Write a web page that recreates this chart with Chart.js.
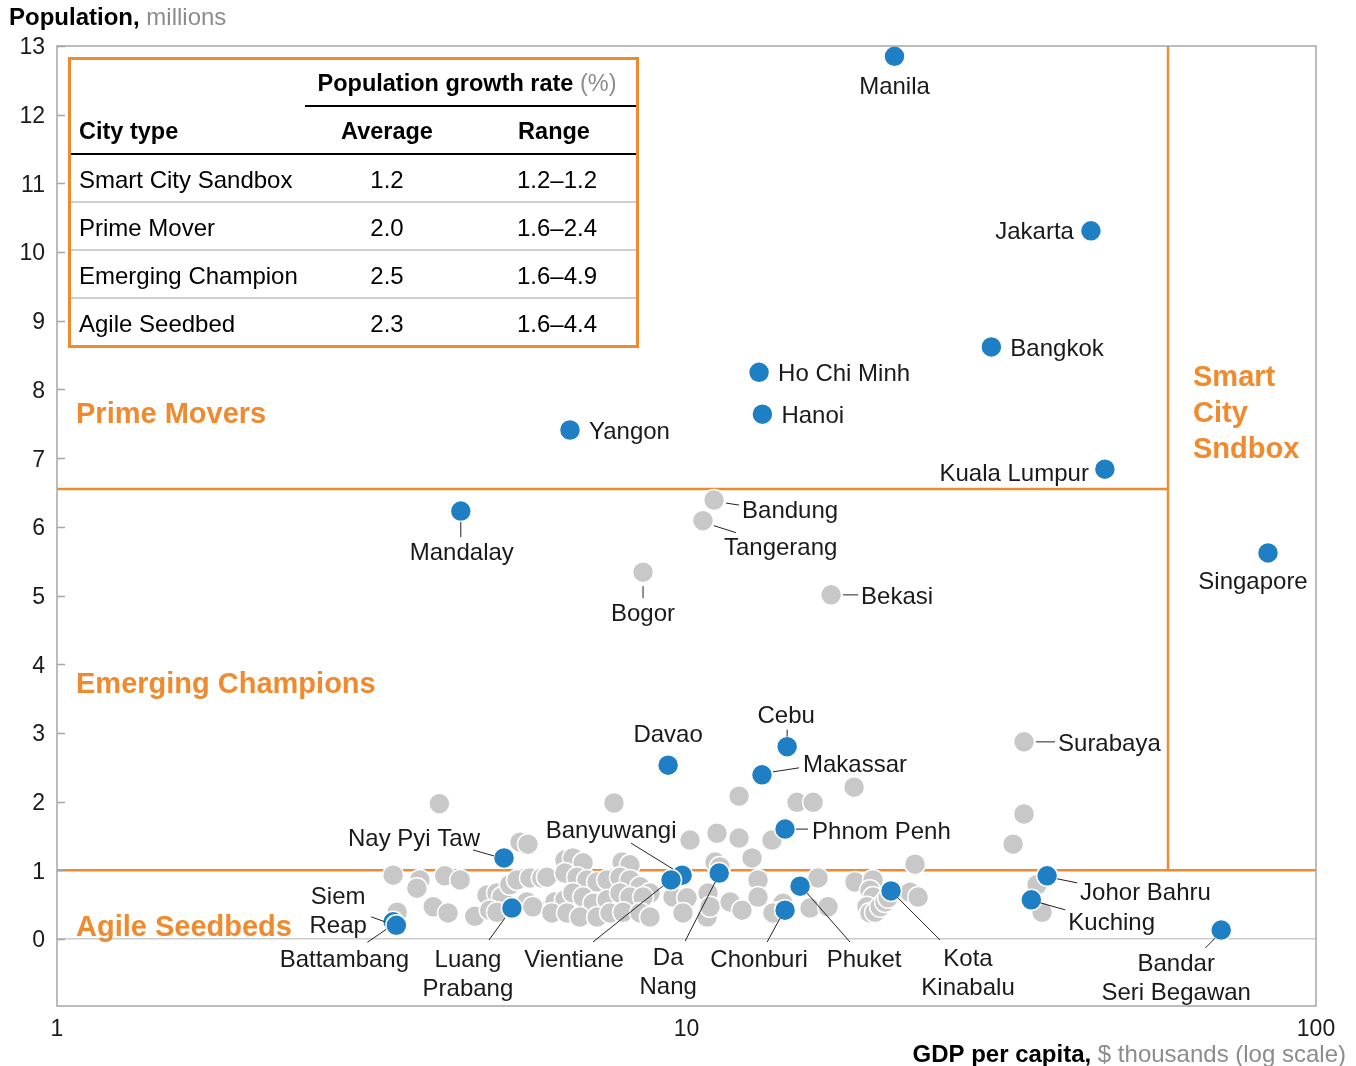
<!DOCTYPE html>
<html>
<head>
<meta charset="utf-8">
<script src="https://cdn.jsdelivr.net/npm/chart.js@4.4.0/dist/chart.umd.min.js"></script>
<style>
  html, body { margin: 0; padding: 0; background: #fff; }
  #wrap { width: 1356px; height: 1066px; }
</style>
</head>
<body>
<div id="wrap"><canvas id="chart" width="1356" height="1066"></canvas></div>
<script>
// Highlighted cities (blue dots): GDP per capita ($k) and population (m)
const cityNames = ['Manila', 'Jakarta', 'Bangkok', 'Ho Chi Minh', 'Hanoi', 'Yangon', 'Kuala Lumpur',
  'Mandalay', 'Singapore', 'Cebu', 'Davao', 'Makassar', 'Phnom Penh', 'Nay Pyi Taw', 'Banyuwangi',
  'Vientiane', 'Da Nang', 'Luang Prabang', 'Siem Reap', 'Battambang', 'Chonburi', 'Phuket',
  'Kota Kinabalu', 'Johor Bahru', 'Kuching', 'Bandar Seri Begawan'];
const cityGdp = [21.4, 43.9, 30.5, 13.04, 13.2, 6.53, 46.2, 4.38, 83.9, 14.45, 9.35, 13.18, 14.34, 5.13, 9.84,
  9.45, 11.27, 5.28, 3.42, 3.46, 14.34, 15.15, 21.13, 37.4, 35.3, 70.7];
const cityPop = [12.85, 10.31, 8.62, 8.25, 7.64, 7.41, 6.84, 6.23, 5.62, 2.80, 2.53, 2.39, 1.60, 1.18, 0.93,
  0.86, 0.96, 0.45, 0.25, 0.20, 0.42, 0.77, 0.70, 0.92, 0.57, 0.13];

// Labelled grey cities
const greyNames = ['Bandung', 'Tangerang', 'Bogor', 'Bekasi', 'Surabaya'];
const greyGdp = [11.06, 10.62, 8.53, 16.97, 34.37];
const greyPop = [6.39, 6.09, 5.34, 5.01, 2.87];

// All the other (unlabelled) cities
const otherGdp = [4.05, 7.67, 12.12, 14.98, 15.89, 18.46, 34.37, 33.02, 11.18, 10.13, 12.12, 13.67, 12.71, 23.07,
  5.44, 5.60, 3.42, 4.13, 4.37, 3.77, 3.73, 3.96, 4.18, 3.47, 4.61, 4.82, 5.00, 5.09, 4.87, 5.00,
  5.24, 5.38, 5.64, 5.89, 5.58, 5.70, 6.14, 6.46, 6.00, 6.41, 6.60, 6.85, 7.90, 8.13, 6.41, 6.70,
  6.95, 7.21, 7.48, 7.84, 8.13, 8.44, 8.75, 6.18, 6.41, 6.60, 6.85, 7.11, 7.48, 7.84, 8.13, 8.53,
  6.11, 6.46, 6.77, 7.21, 7.56, 7.93, 8.44, 8.75, 9.52, 10.02, 9.87, 10.78, 10.82, 10.90, 11.73, 12.25,
  11.10, 11.30, 12.99, 12.99, 16.18, 14.23, 13.98, 13.72, 15.71, 16.78, 18.52, 19.78, 19.56, 19.78,
  19.35, 19.56, 19.93, 20.30, 20.67, 20.90, 22.65, 23.33, 36.05, 36.71];
const otherPop = [1.97, 1.98, 2.08, 1.99, 1.99, 2.21, 1.82, 1.38, 1.54, 1.44, 1.47, 1.44, 1.18, 1.09,
  1.41, 1.38, 0.93, 0.92, 0.86, 0.86, 0.74, 0.47, 0.38, 0.39, 0.33, 0.64, 0.67, 0.61, 0.42, 0.39,
  0.79, 0.86, 0.89, 0.89, 0.54, 0.47, 0.52, 0.60, 0.90, 1.15, 1.18, 1.11, 1.12, 1.08, 0.96, 0.90,
  0.86, 0.83, 0.86, 0.90, 0.86, 0.76, 0.67, 0.54, 0.57, 0.67, 0.61, 0.52, 0.57, 0.67, 0.61, 0.61,
  0.38, 0.38, 0.32, 0.32, 0.38, 0.39, 0.38, 0.32, 0.61, 0.60, 0.38, 0.32, 0.67, 0.47, 0.54, 0.42,
  1.12, 1.05, 0.86, 0.61, 0.89, 0.52, 0.39, 0.38, 0.45, 0.47, 0.83, 0.86, 0.71, 0.61,
  0.47, 0.38, 0.39, 0.47, 0.54, 0.60, 0.68, 0.61, 0.79, 0.39];

// Segment borders
const primeMoverPop = 6.55;
const seedbedPop = 1;
const sandboxGdp = 58.2;

const xTicks = [1, 10, 100];
const yTicks = [0, 1, 2, 3, 4, 5, 6, 7, 8, 9, 10, 11, 12, 13];

// Growth rate table
const tableTypes = ['Smart City Sandbox', 'Prime Mover', 'Emerging Champion', 'Agile Seedbed'];
const tableAvg = ['1.2', '2.0', '2.5', '2.3'];
const tableRange = ['1.2\u20131.2', '1.6\u20132.4', '1.6\u20134.9', '1.6\u20134.4'];

const BLUE = '#1f7fc4';
const GREY = '#c8c8c8';
const ORANGE = '#ef8a2e';
const TEXT = '#1a1a1a';
const MUTED = '#8c8c8c';
const FAMILY = "'Liberation Sans', Arial, Helvetica, sans-serif";
const font = (size, bold) => (bold ? 'bold ' : '') + size + 'px ' + FAMILY;

// label placement: text offset from the dot (px), and the leader line
const labelLayout = {
  'Manila': { dx: 0, dy: 30, align: 'center' },
  'Jakarta': { dx: -17, dy: 0, align: 'right' },
  'Bangkok': { dx: 19, dy: 1, align: 'left' },
  'Ho Chi Minh': { dx: 19, dy: 1, align: 'left' },
  'Hanoi': { dx: 19, dy: 1, align: 'left' },
  'Yangon': { dx: 19, dy: 1, align: 'left' },
  'Kuala Lumpur': { dx: -16, dy: 4, align: 'right' },
  'Mandalay': { dx: 1, dy: 41, align: 'center', tick: [0, 11, 0, 26] },
  'Singapore': { dx: -15, dy: 28, align: 'center' },
  'Cebu': { dx: -1, dy: -32, align: 'center', tick: [0, -10, 0, -17] },
  'Davao': { dx: 0, dy: -31, align: 'center' },
  'Makassar': { dx: 41, dy: -11, align: 'left', tick: [11, -3, 37, -7] },
  'Phnom Penh': { dx: 27, dy: 2, align: 'left', tick: [11, 0, 23, 0] },
  'Nay Pyi Taw': { dx: -24, dy: -20, align: 'right', tick: [-31, -8, -10, -2] },
  'Banyuwangi': { dx: -71, dy: -45, align: 'center', tick: [-51, -32, -9, -6] },
  'Vientiane': { dx: -97, dy: 79, align: 'center', tick: [-78, 62, -8, 6] },
  'Da Nang': { dx: -51, dy: 84, align: 'center', lines: ['Da', 'Nang'], tick: [-34, 68, -4, 9] },
  'Luang Prabang': { dx: -44, dy: 51, align: 'center', lines: ['Luang', 'Prabang'], tick: [-23, 32, -7, 10] },
  'Siem Reap': { dx: -55, dy: -26, align: 'center', lines: ['Siem', 'Reap'], tick: [-22, -5, -8, 0] },
  'Battambang': { dx: -52, dy: 34, align: 'center', tick: [-29, 17, -10, 4] },
  'Chonburi': { dx: -26, dy: 49, align: 'center', tick: [-18, 32, -5, 8] },
  'Phuket': { dx: 64, dy: 73, align: 'center', tick: [50, 56, 7, 7] },
  'Kota Kinabalu': { dx: 77, dy: 67, align: 'center', lines: ['Kota', 'Kinabalu'], tick: [49, 49, 7, 7] },
  'Johor Bahru': { dx: 33, dy: 16, align: 'left', tick: [10, 3, 30, 7] },
  'Kuching': { dx: 37, dy: 22, align: 'left', tick: [9, 3, 34, 10] },
  'Bandar Seri Begawan': { dx: -45, dy: 33, align: 'center', lines: ['Bandar', 'Seri Begawan'], tick: [-16, 18, -6, 8] },
  'Bandung': { dx: 28, dy: 10, align: 'left', tick: [12, 3, 25, 5] },
  'Tangerang': { dx: 21, dy: 26, align: 'left', tick: [11, 5, 33, 12] },
  'Bogor': { dx: 0, dy: 41, align: 'center', tick: [0, 14, 0, 26] },
  'Bekasi': { dx: 30, dy: 1, align: 'left', tick: [12, 0, 27, 0] },
  'Surabaya': { dx: 34, dy: 1, align: 'left', tick: [12, 0, 31, 0] }
};

// draw a run of text pieces with their own colour / weight
function drawParts(ctx, parts, x, y, align) {
  let total = 0;
  parts.forEach(p => { ctx.font = font(p.size, p.bold); p.w = ctx.measureText(p.text).width; total += p.w; });
  let cx = align === 'right' ? x - total : align === 'center' ? x - total / 2 : x;
  ctx.textAlign = 'left';
  ctx.textBaseline = 'middle';
  parts.forEach(p => {
    ctx.font = font(p.size, p.bold);
    ctx.fillStyle = p.color;
    ctx.fillText(p.text, cx, y);
    cx += p.w;
  });
}

const annotations = {
  id: 'annotations',
  afterDatasetsDraw(chart) {
    const { ctx, chartArea: a, scales: { x, y } } = chart;
    ctx.save();

    // frame and inward y ticks
    ctx.strokeStyle = '#a6a6a6';
    ctx.lineWidth = 1.5;
    ctx.strokeRect(a.left, a.top, a.right - a.left, a.bottom - a.top);
    yTicks.forEach(v => {
      const py = Math.round(y.getPixelForValue(v)) + 0.5;
      ctx.beginPath();
      ctx.moveTo(a.left, py);
      ctx.lineTo(a.left + 8, py);
      ctx.stroke();
    });

    // city labels and leader lines
    const named = [];
    cityNames.forEach((n, i) => named.push([n, cityGdp[i], cityPop[i]]));
    greyNames.forEach((n, i) => named.push([n, greyGdp[i], greyPop[i]]));
    named.forEach(([name, gx, gy]) => {
      const l = labelLayout[name];
      if (!l) return;
      const px = x.getPixelForValue(gx);
      const py = y.getPixelForValue(gy);
      if (l.tick) {
        ctx.strokeStyle = '#222';
        ctx.lineWidth = 1;
        ctx.beginPath();
        ctx.moveTo(px + l.tick[0], py + l.tick[1]);
        ctx.lineTo(px + l.tick[2], py + l.tick[3]);
        ctx.stroke();
      }
      ctx.font = font(24, false);
      ctx.fillStyle = TEXT;
      ctx.textAlign = l.align;
      ctx.textBaseline = 'middle';
      (l.lines || [name]).forEach((t, k) => ctx.fillText(t, px + l.dx, py + l.dy + 1.5 + k * 29));
    });

    // segment names
    ctx.font = font(29, true);
    ctx.fillStyle = ORANGE;
    ctx.textAlign = 'left';
    ctx.textBaseline = 'middle';
    ctx.fillText('Prime Movers', a.left + 19, 415);
    ctx.fillText('Emerging Champions', a.left + 19, 685);
    ctx.fillText('Agile Seedbeds', a.left + 19, 928);
    ['Smart', 'City', 'Sndbox'].forEach((t, k) => ctx.fillText(t, 1193, 378 + k * 36));

    // axis titles
    drawParts(ctx, [
      { text: 'Population, ', bold: true, size: 24, color: '#000' },
      { text: 'millions', bold: false, size: 24, color: MUTED }
    ], 9, 18, 'left');
    drawParts(ctx, [
      { text: 'GDP per capita, ', bold: true, size: 24, color: '#000' },
      { text: '$ thousands (log scale)', bold: false, size: 24, color: MUTED }
    ], 1346, 1055, 'right');

    // growth rate table
    ctx.fillStyle = '#fff';
    ctx.fillRect(69, 58, 568, 288);
    drawParts(ctx, [
      { text: 'Population growth rate ', bold: true, size: 23.5, color: '#000' },
      { text: '(%)', bold: false, size: 23.5, color: MUTED }
    ], 467, 85, 'center');
    ctx.strokeStyle = '#000';
    ctx.lineWidth = 2;
    ctx.beginPath();
    ctx.moveTo(305, 106); ctx.lineTo(636, 106);
    ctx.moveTo(71, 154); ctx.lineTo(636, 154);
    ctx.stroke();
    ctx.font = font(23.5, true);
    ctx.fillStyle = '#000';
    ctx.textBaseline = 'middle';
    ctx.textAlign = 'left';
    ctx.fillText('City type', 79, 133);
    ctx.textAlign = 'center';
    ctx.fillText('Average', 387, 133);
    ctx.fillText('Range', 554, 133);
    ctx.strokeStyle = '#cfcfcf';
    ctx.lineWidth = 2;
    [202, 250, 298].forEach(ly => {
      ctx.beginPath();
      ctx.moveTo(71, ly); ctx.lineTo(636, ly);
      ctx.stroke();
    });
    ctx.font = font(24, false);
    tableTypes.forEach((t, i) => {
      const ry = 181 + i * 48;
      ctx.textAlign = 'left';
      ctx.fillText(t, 79, ry);
      ctx.textAlign = 'center';
      ctx.fillText(tableAvg[i], 387, ry);
      ctx.fillText(tableRange[i], 557, ry);
    });
    ctx.strokeStyle = ORANGE;
    ctx.lineWidth = 3;
    ctx.strokeRect(69.5, 58.5, 568, 288);

    ctx.restore();
  }
};

const dot = { borderColor: '#fff', borderWidth: 1.5, pointRadius: 10.5, pointHoverRadius: 10.5 };
const segLine = { type: 'line', borderColor: ORANGE, borderWidth: 2.5, pointRadius: 0, fill: false, order: 5 };

new Chart(document.getElementById('chart'), {
  type: 'scatter',
  data: {
    datasets: [
      Object.assign({ label: 'Highlighted', data: cityGdp.map((g, i) => ({ x: g, y: cityPop[i] })), backgroundColor: BLUE, order: 0 }, dot),
      Object.assign({ label: 'Labelled', data: greyGdp.map((g, i) => ({ x: g, y: greyPop[i] })), backgroundColor: GREY, order: 1 }, dot),
      Object.assign({ label: 'Other', data: otherGdp.map((g, i) => ({ x: g, y: otherPop[i] })), backgroundColor: GREY, order: 2 }, dot),
      Object.assign({ label: 'Prime', data: [{ x: 1, y: primeMoverPop }, { x: sandboxGdp, y: primeMoverPop }] }, segLine),
      Object.assign({ label: 'Sandbox', data: [{ x: sandboxGdp, y: seedbedPop }, { x: sandboxGdp, y: 13 }] }, segLine),
      Object.assign({ label: 'Seedbed', data: [{ x: 1, y: seedbedPop }, { x: 100, y: seedbedPop }] }, segLine)
    ]
  },
  options: {
    responsive: false,
    animation: false,
    devicePixelRatio: 1,
    layout: { padding: { left: 0, top: 46, right: 40, bottom: 0 } },
    plugins: { legend: { display: false }, tooltip: { enabled: false } },
    scales: {
      x: {
        type: 'logarithmic',
        min: 1,
        max: 100,
        afterBuildTicks: s => { s.ticks = xTicks.map(v => ({ value: v })); },
        afterFit: s => { s.height = 60; },
        grid: { display: false, drawTicks: false },
        border: { display: false },
        ticks: { font: { size: 23, family: FAMILY }, color: TEXT, padding: 10, maxRotation: 0, autoSkip: false, callback: v => String(v) }
      },
      y: {
        min: -0.975,
        max: 13,
        afterBuildTicks: s => { s.ticks = yTicks.map(v => ({ value: v })); },
        afterFit: s => { s.width = 57; },
        grid: { drawTicks: false, lineWidth: 1.5, color: c => (c.tick && c.tick.value === 0 ? '#cccccc' : 'rgba(0,0,0,0)') },
        border: { display: false },
        ticks: { font: { size: 23, family: FAMILY }, color: TEXT, padding: 12, labelOffset: 2, autoSkip: false }
      }
    }
  },
  plugins: [annotations]
});
</script>
</body>
</html>
